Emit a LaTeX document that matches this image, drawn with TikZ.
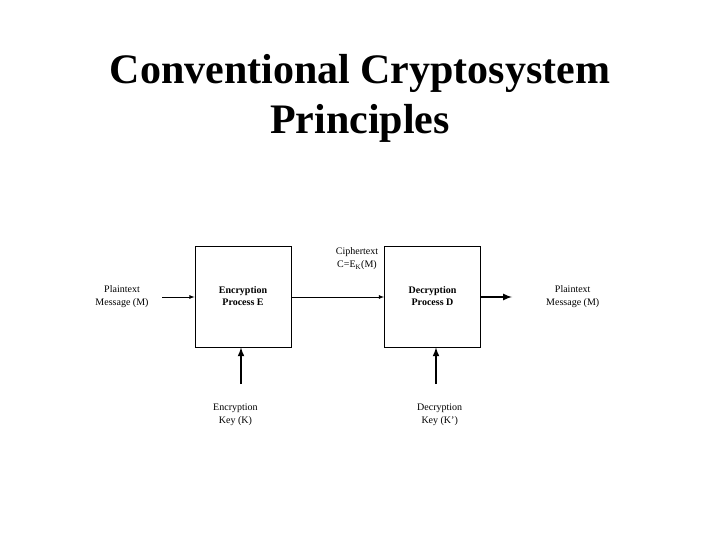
\documentclass[tikz,border=0pt]{standalone}
\usepackage{fontspec}
\setmainfont{Liberation Serif}
\tikzset{
  proc/.style={draw,line width=0.8pt,minimum width=96pt,minimum height=101pt,font=\bfseries\fontsize{10}{12}\selectfont,align=center},
  lbl/.style={font=\fontsize{10}{13}\selectfont,align=center,inner sep=0pt},
  arr/.style={-latex,line width=0.8pt},
  karr/.style={-latex,line width=2pt}
}
\begin{document}
\begin{tikzpicture}[x=1pt,y=-1pt]
\useasboundingbox (0,0) rectangle (720,540);
\node[font=\bfseries\fontsize{42}{50}\selectfont,align=center] (title) at (360,98) {Conventional Cryptosystem\\Principles};
\node[proc] (E) at (243,296.5) {Encryption\\Process E};
\node[proc] (D) at (432.5,296.5) {Decryption\\Process D};
\node[lbl] (pin) at (122,297) {Plaintext\\Message (M)};
\node[lbl,anchor=west] (pout) at (546,297) {Plaintext\\Message (M)};
\node[lbl] (ct) at (357,259) {Ciphertext\\C=E\textsubscript{K}(M)};
\node[lbl,anchor=west] (ek) at (213,415) {Encryption\\Key (K)};
\node[lbl,anchor=west] (dk) at (417,415) {Decryption\\Key (K')};
\coordinate (a1) at (162,297);
\coordinate (a2) at (512,297);
\coordinate (ke) at (241,384);
\coordinate (kd) at (436,384);
\draw[arr] (a1) -- (E.west |- a1);
\draw[arr] (E.east |- a1) -- (D.west |- a1);
\draw[karr] (D.east |- a2) -- (a2);
\draw[karr] (ke) -- (ke |- E.south);
\draw[karr] (kd) -- (kd |- D.south);
\end{tikzpicture}
\end{document}
